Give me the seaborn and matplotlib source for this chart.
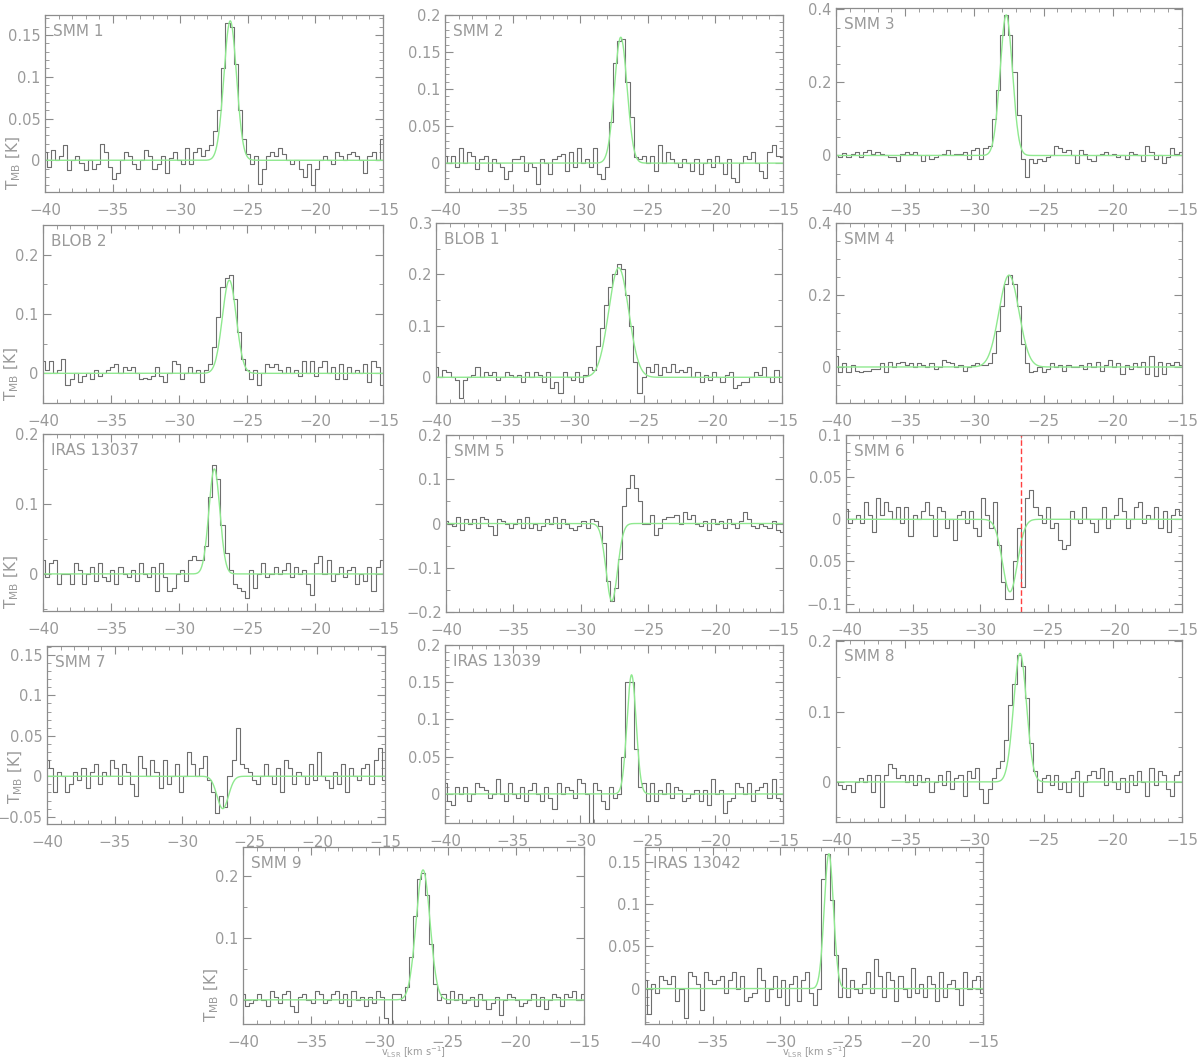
import numpy as np
import pandas as pd
import matplotlib
matplotlib.use("Agg")
import matplotlib.pyplot as plt
from matplotlib.ticker import MultipleLocator, FuncFormatter
import seaborn as sns

# ---------------- data ----------------
source_names = ["SMM 1", "SMM 2", "SMM 3",
                "BLOB 2", "BLOB 1", "SMM 4",
                "IRAS 13037", "SMM 5", "SMM 6",
                "SMM 7", "IRAS 13039", "SMM 8",
                "SMM 9", "IRAS 13042"]

v_start = -40.0      # km/s, first channel
chan_width = 0.3     # km/s

# spectra in mK, one value per channel
smm1 = [10, -8, 12, 0, 5, 18, -12, 0, 5, -3,
        -12, 0, -10, -5, 20, 10, -8, -22, -15, 0,
        10, 5, -5, -10, 0, 12, 5, -10, -5, 5,
        -15, 3, 10, 0, -5, 15, -5, 10, 15, 5,
        12, 18, 35, 60, 110, 165, 160, 115, 60, 25,
        8, -5, 5, -28, -10, 5, 10, 5, 15, 8,
        0, -5, 0, -10, -20, -5, -30, -10, 0, 5,
        0, -5, 10, 5, 0, 8, 10, 5, 0, -15,
        5, 10, 0, 25]
smm2 = [10, 0, 10, -5, 20, 0, 15, 10, -8, 5,
        10, -10, 5, 0, -5, -22, -10, 5, 5, 10,
        -10, 0, -5, -28, 5, 0, -15, 5, 10, 12,
        -10, 15, -5, 20, 0, 5, -5, 20, -15, -22,
        -5, 55, 135, 165, 168, 110, 62, 8, 5, 10,
        0, 10, -10, 25, 0, 15, 5, 0, -5, 5,
        0, -10, 5, -15, 0, 5, -5, 10, 0, -15,
        5, -20, -25, 0, 10, 5, 15, 0, -10, -20,
        15, 25, 10, 8]
smm3 = [0, -5, 8, -5, 5, 10, -5, 10, 15, 5,
        10, 5, 0, -5, -5, -15, 5, 10, 5, 10,
        0, -15, 0, -10, -5, 0, 5, 15, 0, 5,
        5, 10, -10, 15, 20, -10, 20, 25, 100, 180,
        330, 385, 330, 230, 110, -10, -60, -10, -20, -10,
        -15, -5, 0, 25, 20, 10, 15, 0, -20, 15,
        5, -10, -15, 0, 5, 10, 0, 5, -5, 0,
        -10, 10, 5, 0, -15, 25, 10, -10, 0, -20,
        -5, 20, 5, 10]
blob2 = [20, 5, 20, 0, 5, 25, -20, -10, 0, -15,
         -5, 0, -10, 5, -5, 0, 5, 10, 15, 0,
         10, 5, 10, 0, -10, -8, -10, -5, 10, -5,
         -15, 0, 20, 15, -10, 0, 10, 0, 5, -15,
         5, 15, 45, 95, 145, 160, 165, 125, 70, 25,
         5, -10, 5, -20, 0, 15, 10, 15, 5, 0,
         10, 0, 5, -5, 20, 0, 20, -5, 10, 20,
         0, 10, -10, 15, -10, 10, 0, 5, 0, 15,
         -15, 20, 10, -20]
blob1 = [20, 0, 15, 10, 0, -5, -40, -5, 0, 5,
         20, 0, 10, 5, 10, -5, 0, 10, 5, 0,
         5, -10, 10, 0, 10, 5, -10, 10, -20, -10,
         -30, 10, 0, -5, 10, -10, 5, 20, 15, 60,
         95, 140, 175, 200, 220, 210, 160, 100, 30, -30,
         0, 20, 10, 25, 5, 20, 10, 25, 10, 15,
         10, 20, 0, 10, -10, 5, -5, 10, 0, -10,
         5, 10, -20, -15, -10, -10, 0, 10, 5, 20,
         0, -10, 15, -10]
smm4 = [30, -15, 10, -15, 5, -10, -15, -10, -10, -5,
        -5, 10, -15, 15, 0, 10, 15, 5, 10, 0,
        10, 5, 0, 10, -5, 0, 20, 15, 10, 0,
        5, -10, 0, 5, 10, 5, 5, 10, 40, 100,
        170, 230, 255, 230, 170, 65, 10, -15, -10, 0,
        -15, -5, 10, 0, 5, -10, 5, 0, 0, 5,
        -5, 10, 0, 15, -10, 5, 20, 0, 10, -20,
        5, -5, 10, 0, 15, -20, 30, -25, 15, -20,
        10, 5, 15, 5]
iras13037 = [20, -5, 15, 20, -15, 0, 0, -15, 15, 5,
             -15, 0, 10, -10, 15, -5, -10, 5, -15, 10,
             0, -5, 5, -10, 15, 0, -5, 10, -25, 15,
             -5, -25, -20, 0, 5, -10, 20, 25, 20, 20,
             40, 110, 155, 135, 70, 30, 5, -15, -20, -25,
             -35, 5, -20, 0, 15, -5, 0, 10, 0, 5,
             15, -5, 10, 0, 5, -15, -30, 15, 25, 0,
             20, -10, 0, 10, -5, 5, 10, -15, 0, -10,
             10, -25, 10, 20]
smm5 = [5, 0, -5, 15, -15, 10, 0, 10, -10, 15,
        10, -5, -25, 10, 5, 0, -10, 0, 10, -10,
        15, -10, 0, -15, -5, 10, 0, 15, -10, 10,
        0, -10, -15, -5, 5, -10, 10, 5, -5, -45,
        -130, -175, -145, -80, 40, 80, 110, 80, 50, 0,
        0, 20, -25, -10, 10, 15, 15, 20, 0, 25,
        10, 20, 0, -5, 5, -15, 10, 0, 5, -10,
        10, 0, -10, 5, 25, 10, -5, -10, 0, -5,
        -10, 5, -15, -20]
smm6 = [12, -5, 0, 5, -5, 20, 5, -15, 25, 5,
        20, 10, 0, 15, -5, 15, -20, 5, 0, 10,
        20, 5, -20, 15, 10, -10, 0, -25, 5, 10,
        -5, 10, -10, -20, 25, 5, -10, 20, -30, -75,
        -95, -95, -50, -10, -80, 25, 35, 15, 5, -5,
        15, -10, -5, -25, -35, -30, 10, 0, -5, 15,
        0, -5, -15, 0, 15, -10, 0, 5, 25, 10,
        -10, 0, 15, 20, -5, 5, 0, 15, -10, 10,
        -15, 5, 12, 5]
smm7 = [20, 10, -20, 5, 0, -20, -10, 5, -5, 10,
        -15, 5, 15, -10, 5, 0, 20, 10, -10, 15,
        5, -10, -25, 25, 10, 0, 20, 5, -15, 20,
        -10, 0, 15, -20, 0, 30, 15, 0, 10, 25,
        -5, -20, -45, -25, -38, 0, 20, 60, 15, 10,
        5, -5, -10, 0, 15, 0, -10, 10, -20, 20,
        10, -10, 5, 0, -10, 15, -5, 30, 0, -5,
        -15, 5, -10, 15, -20, 10, 0, -5, 10, 15,
        -10, 20, 35, -5]
iras13039 = [15, -10, -15, 10, 0, 10, -10, 0, 15, 10,
             5, -5, 0, 20, 0, -10, 15, 0, -5, 10,
             -10, 5, 15, 0, -10, 10, -5, -20, 15, 0,
             10, 5, -5, 20, 15, 0, -40, 15, 5, -10,
             -20, 10, -5, 0, 50, 150, 150, 60, 10, 15,
             -10, 15, -10, 5, 0, 15, -5, 10, 5, -10,
             -5, 0, 5, -10, 5, -15, 20, 0, 5, -25,
             -10, -5, 15, 10, 0, 15, -10, 5, 10, 15,
             -5, 20, -5, -10]
smm8 = [0, -5, -10, -5, -15, 0, 5, 0, 10, -15,
        10, -35, 10, 25, 20, 5, 10, 0, 10, -5,
        10, 0, 5, -15, 0, 10, -5, 15, -10, 5,
        10, -20, 15, 5, 20, -10, -30, -10, 5, 20,
        30, 60, 110, 140, 180, 165, 120, 55, 15, -15,
        5, 10, -5, 10, -10, 0, -15, 5, 15, -20,
        0, 10, 15, 5, 20, -5, 15, 0, -10, 5,
        -15, 10, -5, 15, 0, -20, 20, -5, 15, 10,
        -10, -20, 10, 15]
smm9 = [10, -10, -5, 0, 10, 0, -10, 15, 5, -5,
        10, 15, -10, -20, 5, 10, 0, -5, 15, 10,
        -5, 0, 10, 15, -5, 10, -10, 15, 0, 5,
        -10, 5, -5, 15, 5, -30, -40, 10, 10, 0,
        20, 70, 135, 195, 205, 170, 90, 25, 0, 10,
        -5, 15, 0, 10, -5, 0, 5, -10, 10, 0,
        -15, -5, 5, -25, 0, 10, 5, 0, -10, -5,
        0, 10, -10, 5, -15, 0, 10, 5, -10, 10,
        5, 15, 0, 10]
iras13042 = [10, -30, 5, -5, 15, 10, 5, 15, -15, 0,
             -35, 20, 15, 5, -25, 20, 10, 5, 10, 15,
             -5, 10, 20, 0, 15, -15, -10, -5, 25, 10,
             -15, 0, 15, -10, 10, -20, 5, 15, -15, 10,
             20, -5, -20, 0, 130, 160, 105, 40, -10, 25,
             -10, 10, 0, -5, 5, 20, -5, 35, 15, -10,
             20, 10, -15, 15, 0, -10, 25, -5, 5, -10,
             15, 5, -15, 20, -10, 5, 10, 0, -20, 20,
             0, 10, 15, -5]

spectra = [smm1, smm2, smm3, blob2, blob1, smm4, iras13037, smm5,
           smm6, smm7, iras13039, smm8, smm9, iras13042]

# Gaussian fit parameters: peak (K), centre (km/s), FWHM (km/s)
fit_amp = [0.167, 0.170, 0.385, 0.157, 0.213, 0.255, 0.150, -0.175,
           -0.086, -0.040, 0.160, 0.183, 0.210, 0.160]
fit_vc = [-26.3, -27.0, -27.7, -26.3, -26.8, -27.5, -27.4, -27.7,
          -27.8, -27.0, -26.2, -26.7, -26.8, -26.4]
fit_fwhm = [1.1, 1.1, 1.05, 1.2, 1.7, 1.7, 0.95, 1.0,
            1.3, 1.0, 0.8, 1.1, 1.2, 0.8]

smm6_marker_v = -27.0

y_limits = [(-0.038, 0.174), (-0.039, 0.2), (-0.1, 0.404),
            (-0.05, 0.25), (-0.05, 0.3), (-0.1, 0.4),
            (-0.053, 0.2), (-0.2, 0.2), (-0.11, 0.1),
            (-0.059, 0.161), (-0.039, 0.2), (-0.057, 0.202),
            (-0.039, 0.247), (-0.042, 0.168)]
y_major = [0.05, 0.05, 0.2, 0.1, 0.1, 0.2, 0.1, 0.1, 0.05, 0.05, 0.05, 0.1, 0.1, 0.05]
x_limits = (-40, -15)

# ---------------- layout (pixel boxes: left, top, right, bottom) ----------------
W, H = 1200, 1060
boxes = [(45, 15, 383, 192), (445, 15, 783, 192), (836, 8, 1182, 192),
         (43, 225, 383, 403), (436, 223, 782, 403), (836, 223, 1182, 403),
         (43, 434, 383, 611), (446, 435, 783, 612), (846, 435, 1182, 612),
         (47, 646, 385, 824), (445, 645, 783, 823), (836, 640, 1182, 822),
         (243, 847, 584, 1024), (645, 847, 983, 1024)]
ylabel_lift = {0: 2, 3: 2, 6: 2, 9: 20, 12: 2}
bottom_row = {12, 13}

sns.set_theme(style="ticks")
plt.rcParams['font.family'] = ['DejaVu Sans']
plt.rcParams['axes.unicode_minus'] = True

spec_color = "#6e6e6e"
fit_color = "#8fe98f"
frame_color = "#8c8c8c"
text_color = "#9a9a9a"


def make_fmt(special_neg=False):
    def f(val, pos):
        if abs(val) < 1e-9:
            return "0"
        if special_neg and abs(val + 0.05) < 1e-9:
            return "0.05"
        return f"{val:g}".replace("-", "\u2212")
    return f


fig = plt.figure(figsize=(12, 10.6), dpi=100)

for k, name in enumerate(source_names):
    l, t, r, b = boxes[k]
    ax = fig.add_axes([l / W, 1 - b / H, (r - l) / W, (b - t) / H])
    spec = np.array(spectra[k], dtype=float) / 1000.0
    v = v_start + chan_width * np.arange(len(spec))
    df = pd.DataFrame({"v": v, "T": spec})
    sns.lineplot(data=df, x="v", y="T", ax=ax, drawstyle="steps-mid",
                 color=spec_color, lw=0.8, estimator=None)
    vf = np.linspace(x_limits[0], x_limits[1], 800)
    g = fit_amp[k] * np.exp(-4 * np.log(2) * (vf - fit_vc[k]) ** 2 / fit_fwhm[k] ** 2)
    sns.lineplot(x=vf, y=g, ax=ax, color=fit_color, lw=1.0, estimator=None)
    if name == "SMM 6":
        ax.axvline(smm6_marker_v, color="#ff4040", ls=(0, (4, 2)), lw=1.0)

    ax.set_xlim(*x_limits)
    ax.set_ylim(*y_limits[k])
    ax.set_xlabel("")
    ax.set_ylabel("")
    ax.xaxis.set_major_locator(MultipleLocator(5))
    ax.xaxis.set_minor_locator(MultipleLocator(1))
    ym = y_major[k]
    ax.yaxis.set_major_locator(MultipleLocator(ym))
    ax.yaxis.set_minor_locator(MultipleLocator(0.01 if ym == 0.05 else 0.05))
    ax.xaxis.set_major_formatter(FuncFormatter(make_fmt()))
    ax.yaxis.set_major_formatter(FuncFormatter(make_fmt(name == "SMM 6")))
    ax.tick_params(which="both", direction="in", top=True, right=True,
                   color=frame_color, labelcolor=text_color, labelsize=11)
    ax.tick_params(which="major", length=6, width=0.8)
    ax.tick_params(which="minor", length=3, width=0.6)
    ax.tick_params(axis="x", which="major", pad=8)
    ax.tick_params(axis="y", which="major", pad=3, labelsize=10.5)
    for sp in ax.spines.values():
        sp.set_color(frame_color)
        sp.set_linewidth(0.9)

    ax.annotate(name, xy=(0, 1), xycoords="axes fraction", xytext=(8, -9),
                textcoords="offset pixels", ha="left", va="top",
                fontsize=11, color=text_color)
    if k in ylabel_lift:
        ax.annotate(r"T$_{\mathrm{MB}}$ [K]", xy=(0, 0), xycoords="axes fraction",
                    xytext=(-31, ylabel_lift[k]), textcoords="offset pixels",
                    rotation=90, ha="center", va="bottom", fontsize=11,
                    color=text_color)
    if k in bottom_row:
        ax.annotate(r"v$_{\mathrm{LSR}}$ [km s$^{-1}$]", xy=(0.5, 0),
                    xycoords="axes fraction", xytext=(0, -20),
                    textcoords="offset pixels", ha="center", va="top",
                    fontsize=7, color=text_color)

fig.savefig("out.png", dpi=100, facecolor="white")
